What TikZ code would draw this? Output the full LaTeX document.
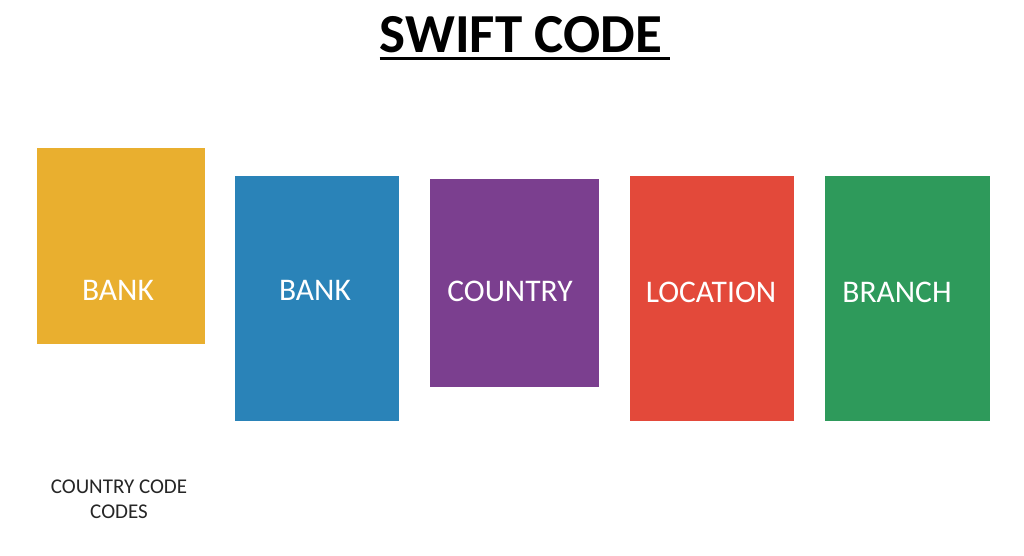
\documentclass[tikz,border=0pt]{standalone}
\usepackage{fontspec}
\setmainfont{Carlito}
\usetikzlibrary{positioning}
\definecolor{bank_orange}{HTML}{E9AF2F}
\definecolor{bank_blue}{HTML}{2A83B8}
\definecolor{country_purple}{HTML}{7B3F8F}
\definecolor{location_red}{HTML}{E3493A}
\definecolor{branch_green}{HTML}{2E9A5B}
\tikzset{
  field/.style={inner sep=0pt, outer sep=0pt, minimum width=#1},
  field/.default=166pt,
  fieldname/.style={inner sep=0pt, text=white, font=\fontsize{31.5}{36}\selectfont},
  heading/.style={inner sep=0pt, anchor=base, font=\bfseries\fontsize{55}{62}\selectfont},
  note/.style={inner sep=0pt, align=center, text=black!85, font=\fontsize{21}{25}\selectfont}
}
\begin{document}
\begin{tikzpicture}[x=1pt, y=-1pt]
  \useasboundingbox[fill=white] (0,0) rectangle (1024,556);
  % title
  \node[heading] (title) at (521,53) {SWIFT CODE};
  \draw[line width=3pt] ([yshift=-5pt]title.south west) -- ([yshift=-5pt, xshift=8pt]title.south east);
  % the five fields
  \node[field=168pt, fill=bank_orange, minimum height=196pt] (bank1) at (121,246) {};
  \node[field=164pt, fill=bank_blue, minimum height=245pt] (bank2) at (317,298.5) {};
  \node[field=169pt, fill=country_purple, minimum height=208pt] (country) at (514.5,283) {};
  \node[field=164pt, fill=location_red, minimum height=245pt] (location) at (712,298.5) {};
  \node[field=165pt, fill=branch_green, minimum height=245pt] (branch) at (907.5,298.5) {};
  % field names
  \node[fieldname] (bank1txt) at (118,290) {BANK};
  \node[fieldname] (bank2txt) at (315,290) {BANK};
  \node[fieldname] (countrytxt) at (510,291) {COUNTRY};
  \node[fieldname] (locationtxt) at (711,292) {LOCATION};
  \node[fieldname] (branchtxt) at (897,292) {BRANCH};
  % note below
  \node[note] (codes) at (119,499) {COUNTRY CODE\\CODES};
\end{tikzpicture}
\end{document}
